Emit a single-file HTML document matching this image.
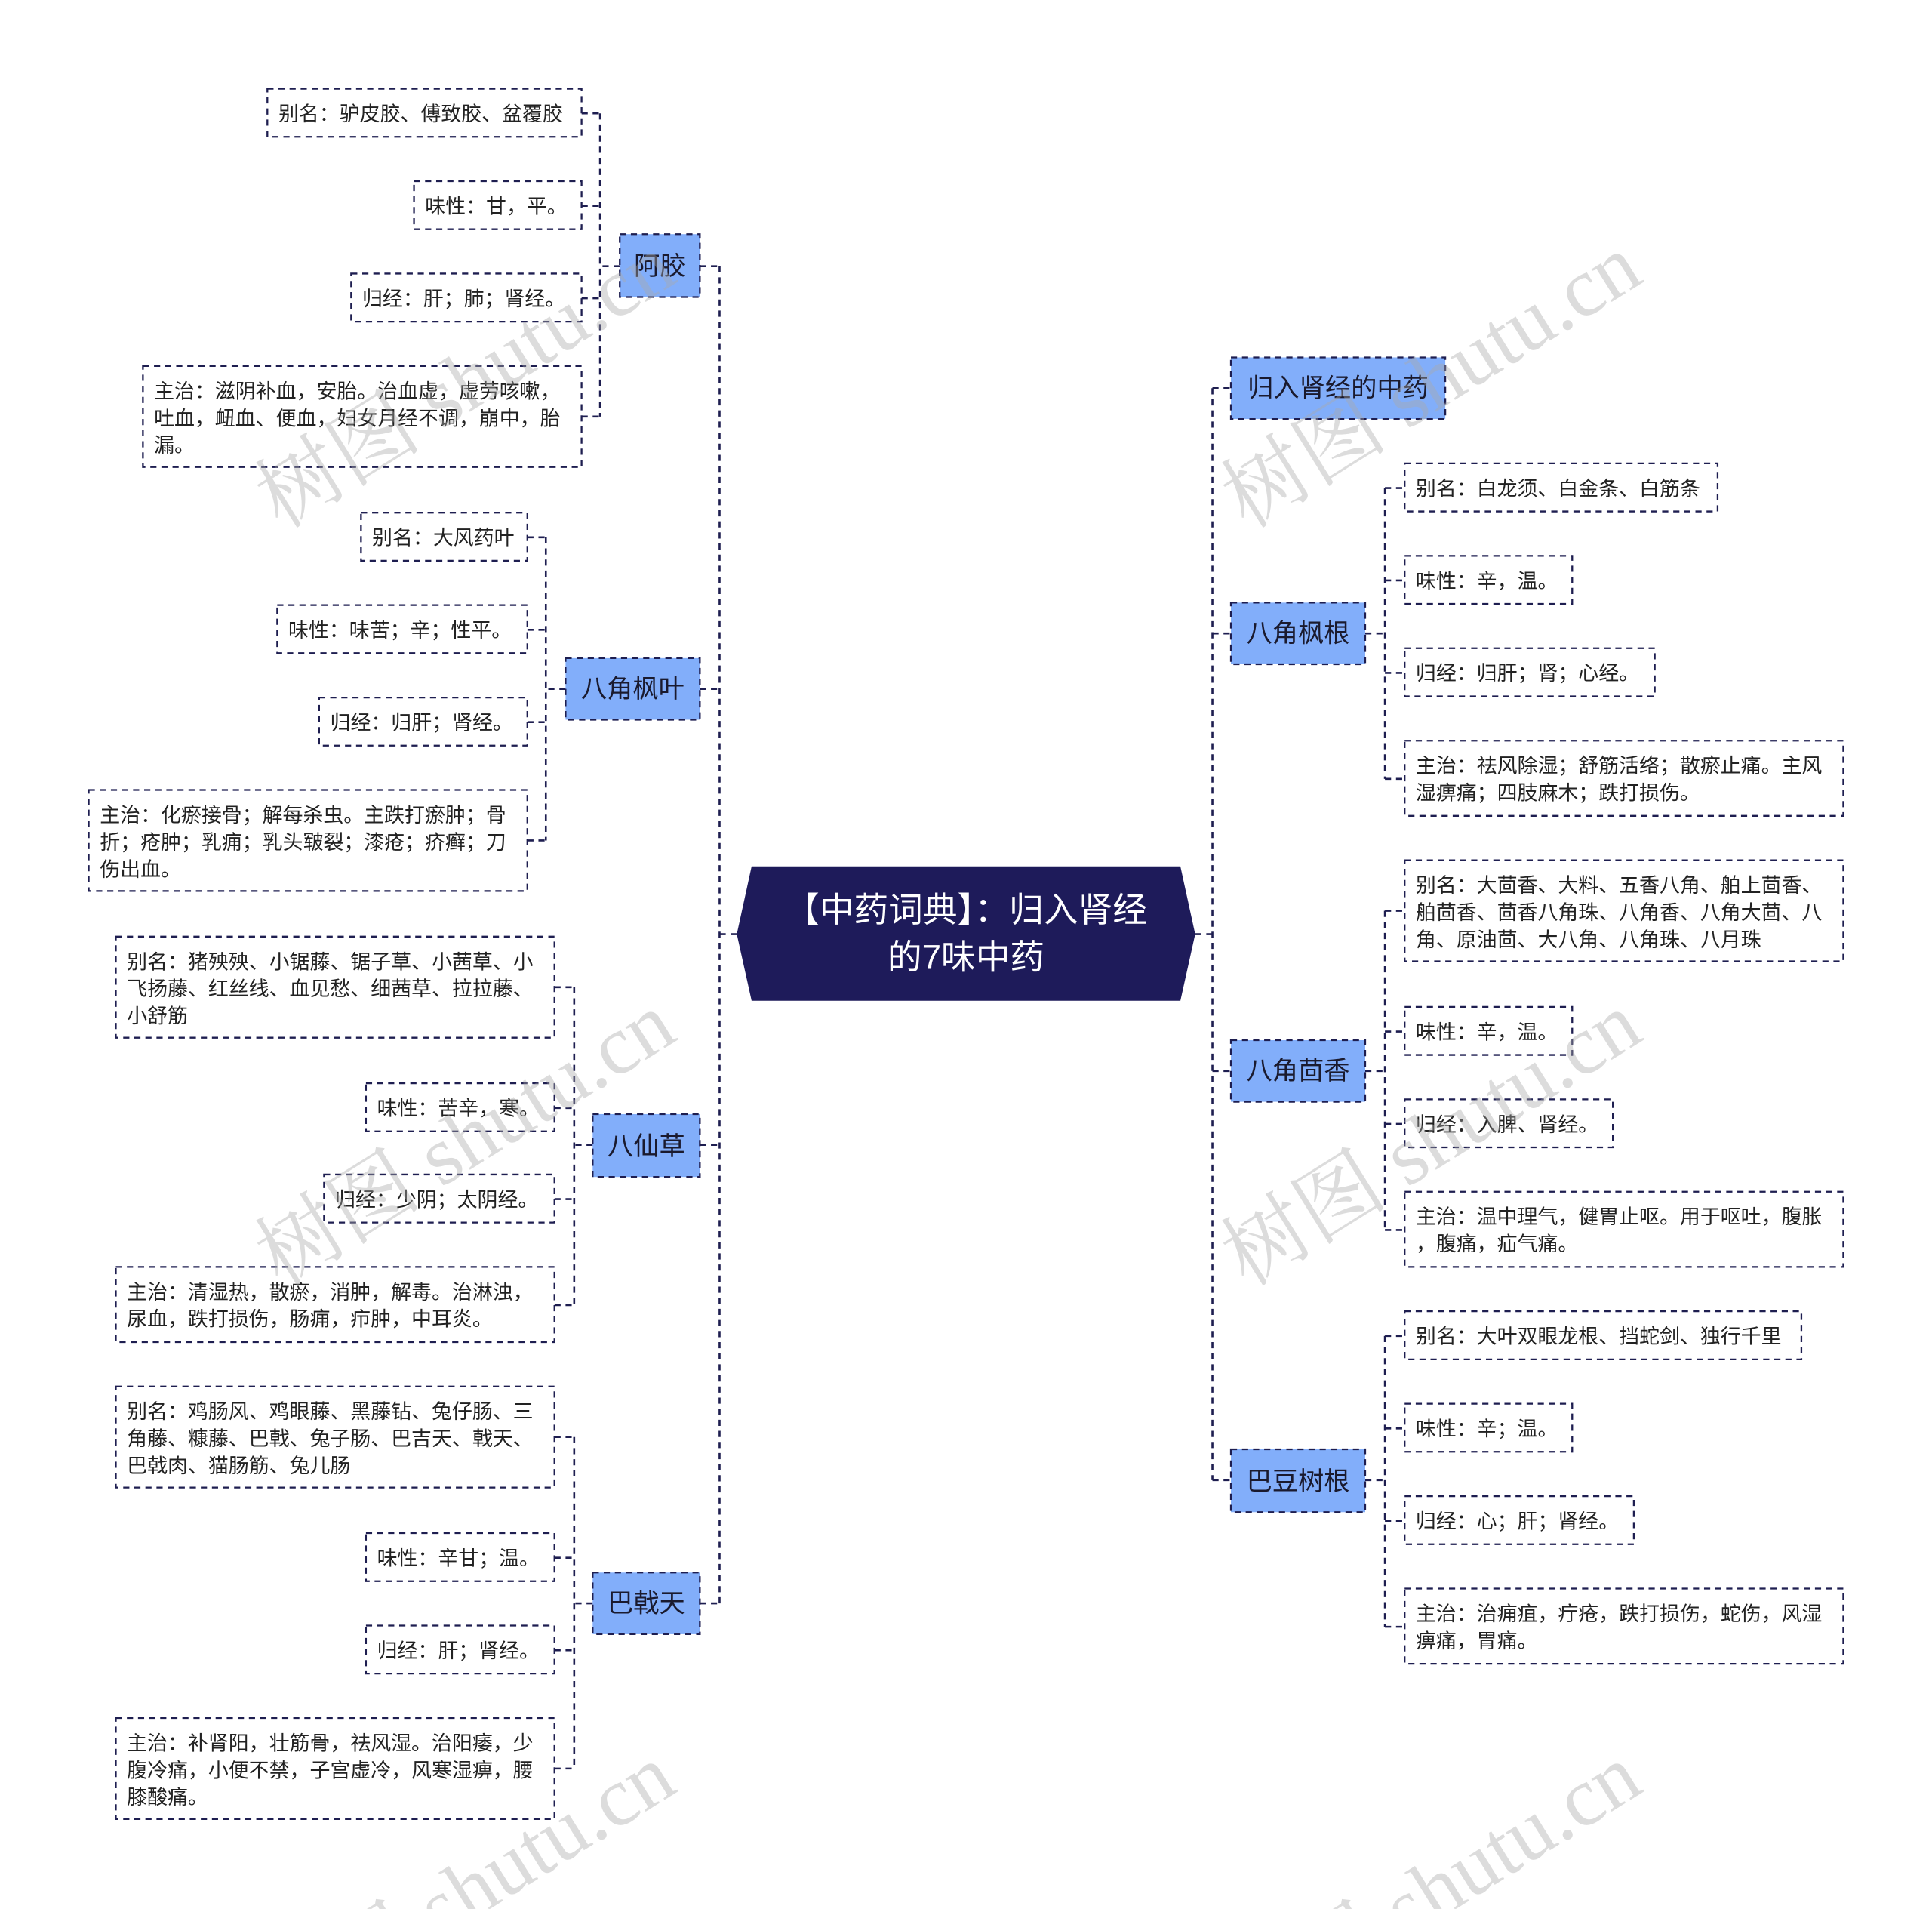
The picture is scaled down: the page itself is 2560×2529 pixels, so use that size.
<!DOCTYPE html>
<html><head><meta charset="utf-8"><style>
html,body{margin:0;padding:0;background:#fff;width:2560px;height:2529px;overflow:hidden;}
svg{display:block;}
text{font-family:"Liberation Sans","Noto Sans CJK SC",sans-serif;}
.t{font-size:16.5px;fill:#222;}
.b{font-size:21px;fill:#1a1a2e;}
.ln{stroke:#1e1e50;stroke-width:1.6;stroke-dasharray:5,4;fill:none;}
.box{stroke:#1e1e50;stroke-width:1.4;stroke-dasharray:5,4;fill:#fff;}
.nd{stroke:#1e1e50;stroke-width:1.4;stroke-dasharray:5,4;fill:#82aefa;}
.wm{font-family:"Liberation Serif","Noto Serif CJK SC",serif;font-size:68px;fill:#aaa;opacity:0.4;}
</style></head><body>
<svg width="2560" height="2529" viewBox="0 0 1568 1549" preserveAspectRatio="none" xmlns="http://www.w3.org/2000/svg">
<path class="ln" d="M598 758 H584 M584 216 V1301 M568 216 H584 M568 559 H584 M568 929 H584 M568 1301 H584"/>
<path class="ln" d="M970 758 H984 M984 315 V1201 M984 315 H999 M984 514 H999 M984 869 H999 M984 1201 H999"/>
<path class="ln" d="M503 216 H487 M487 92 V338 M472 92 H487 M472 167 H487 M472 242 H487 M472 338 H487"/>
<path class="ln" d="M459 559 H443 M443 436 V682 M428 436 H443 M428 511 H443 M428 586 H443 M428 682 H443"/>
<path class="ln" d="M481 929 H466 M466 801 V1059 M450 801 H466 M450 899 H466 M450 973 H466 M450 1059 H466"/>
<path class="ln" d="M481 1301 H466 M466 1166 V1435 M450 1166 H466 M450 1264 H466 M450 1339 H466 M450 1435 H466"/>
<path class="ln" d="M1108 514 H1124 M1124 396 V632 M1124 396 H1140 M1124 471 H1140 M1124 546 H1140 M1124 632 H1140"/>
<path class="ln" d="M1108 869 H1124 M1124 739 V998 M1124 739 H1140 M1124 837 H1140 M1124 912 H1140 M1124 998 H1140"/>
<path class="ln" d="M1108 1201 H1124 M1124 1084 V1320 M1124 1084 H1140 M1124 1159 H1140 M1124 1234 H1140 M1124 1320 H1140"/>

<polygon points="610,703 958,703 970,758 958,812 610,812 598,758" fill="#1e1b5a"/>
<text x="784" y="748" text-anchor="middle" style="font-size:28px;fill:#fff">【中药词典】：归入肾经</text>
<text x="784" y="786" text-anchor="middle" style="font-size:28px;fill:#fff">的7味中药</text>

<rect class="nd" x="503" y="190" width="65" height="51"/><text class="b" x="535.5" y="223" text-anchor="middle">阿胶</text>
<rect class="nd" x="459" y="534" width="109" height="50"/><text class="b" x="513.5" y="566" text-anchor="middle">八角枫叶</text>
<rect class="nd" x="481" y="904" width="87" height="51"/><text class="b" x="524.5" y="937" text-anchor="middle">八仙草</text>
<rect class="nd" x="481" y="1276" width="87" height="50"/><text class="b" x="524.5" y="1308" text-anchor="middle">巴戟天</text>
<rect class="nd" x="999" y="290" width="174" height="50"/><text class="b" x="1086" y="322" text-anchor="middle">归入肾经的中药</text>
<rect class="nd" x="999" y="489" width="109" height="50"/><text class="b" x="1053.5" y="521" text-anchor="middle">八角枫根</text>
<rect class="nd" x="999" y="844" width="109" height="50"/><text class="b" x="1053.5" y="876" text-anchor="middle">八角茴香</text>
<rect class="nd" x="999" y="1176" width="109" height="51"/><text class="b" x="1053.5" y="1209" text-anchor="middle">巴豆树根</text>

<rect class="box" x="217" y="72" width="255" height="39"/><text class="t" x="226" y="98">别名：驴皮胶、傅致胶、盆覆胶</text>
<rect class="box" x="336" y="147" width="136" height="39"/><text class="t" x="345" y="173">味性：甘，平。</text>
<rect class="box" x="285" y="222" width="187" height="39"/><text class="t" x="294" y="248">归经：肝；肺；肾经。</text>
<rect class="box" x="116" y="297" width="356" height="82"/><text class="t" x="125" y="323">主治：滋阴补血，安胎。治血虚，虚劳咳嗽，</text><text class="t" x="125" y="345">吐血，衄血、便血，妇女月经不调，崩中，胎</text><text class="t" x="125" y="367">漏。</text>

<rect class="box" x="293" y="416" width="135" height="39"/><text class="t" x="302" y="442">别名：大风药叶</text>
<rect class="box" x="225" y="491" width="203" height="39"/><text class="t" x="234" y="517">味性：味苦；辛；性平。</text>
<rect class="box" x="259" y="566" width="169" height="39"/><text class="t" x="268" y="592">归经：归肝；肾经。</text>
<rect class="box" x="72" y="641" width="356" height="82"/><text class="t" x="81" y="667">主治：化瘀接骨；解每杀虫。主跌打瘀肿；骨</text><text class="t" x="81" y="689">折；疮肿；乳痈；乳头皲裂；漆疮；疥癣；刀</text><text class="t" x="81" y="711">伤出血。</text>

<rect class="box" x="94" y="760" width="356" height="82"/><text class="t" x="103" y="786">别名：猪殃殃、小锯藤、锯子草、小茜草、小</text><text class="t" x="103" y="808">飞扬藤、红丝线、血见愁、细茜草、拉拉藤、</text><text class="t" x="103" y="830">小舒筋</text>
<rect class="box" x="297" y="879" width="153" height="39"/><text class="t" x="306" y="905">味性：苦辛，寒。</text>
<rect class="box" x="263" y="953" width="187" height="39"/><text class="t" x="272" y="979">归经：少阴；太阴经。</text>
<rect class="box" x="94" y="1028" width="356" height="61"/><text class="t" x="103" y="1054">主治：清湿热，散瘀，消肿，解毒。治淋浊，</text><text class="t" x="103" y="1076">尿血，跌打损伤，肠痈，疖肿，中耳炎。</text>

<rect class="box" x="94" y="1125" width="356" height="82"/><text class="t" x="103" y="1151">别名：鸡肠风、鸡眼藤、黑藤钻、兔仔肠、三</text><text class="t" x="103" y="1173">角藤、糠藤、巴戟、兔子肠、巴吉天、戟天、</text><text class="t" x="103" y="1195">巴戟肉、猫肠筋、兔儿肠</text>
<rect class="box" x="297" y="1244" width="153" height="39"/><text class="t" x="306" y="1270">味性：辛甘；温。</text>
<rect class="box" x="297" y="1319" width="153" height="39"/><text class="t" x="306" y="1345">归经：肝；肾经。</text>
<rect class="box" x="94" y="1394" width="356" height="82"/><text class="t" x="103" y="1420">主治：补肾阳，壮筋骨，祛风湿。治阳痿，少</text><text class="t" x="103" y="1442">腹冷痛，小便不禁，子宫虚冷，风寒湿痹，腰</text><text class="t" x="103" y="1464">膝酸痛。</text>

<rect class="box" x="1140" y="376" width="254" height="39"/><text class="t" x="1149" y="402">别名：白龙须、白金条、白筋条</text>
<rect class="box" x="1140" y="451" width="136" height="39"/><text class="t" x="1149" y="477">味性：辛，温。</text>
<rect class="box" x="1140" y="526" width="203" height="39"/><text class="t" x="1149" y="552">归经：归肝；肾；心经。</text>
<rect class="box" x="1140" y="601" width="356" height="61"/><text class="t" x="1149" y="627">主治：祛风除湿；舒筋活络；散瘀止痛。主风</text><text class="t" x="1149" y="649">湿痹痛；四肢麻木；跌打损伤。</text>

<rect class="box" x="1140" y="698" width="356" height="82"/><text class="t" x="1149" y="724">别名：大茴香、大料、五香八角、舶上茴香、</text><text class="t" x="1149" y="746">舶茴香、茴香八角珠、八角香、八角大茴、八</text><text class="t" x="1149" y="768">角、原油茴、大八角、八角珠、八月珠</text>
<rect class="box" x="1140" y="817" width="136" height="39"/><text class="t" x="1149" y="843">味性：辛，温。</text>
<rect class="box" x="1140" y="892" width="169" height="39"/><text class="t" x="1149" y="918">归经：入脾、肾经。</text>
<rect class="box" x="1140" y="967" width="356" height="61"/><text class="t" x="1149" y="993">主治：温中理气，健胃止呕。用于呕吐，腹胀</text><text class="t" x="1149" y="1015">，腹痛，疝气痛。</text>

<rect class="box" x="1140" y="1064" width="322" height="39"/><text class="t" x="1149" y="1090">别名：大叶双眼龙根、挡蛇剑、独行千里</text>
<rect class="box" x="1140" y="1139" width="136" height="39"/><text class="t" x="1149" y="1165">味性：辛；温。</text>
<rect class="box" x="1140" y="1214" width="186" height="39"/><text class="t" x="1149" y="1240">归经：心；肝；肾经。</text>
<rect class="box" x="1140" y="1289" width="356" height="61"/><text class="t" x="1149" y="1315">主治：治痈疽，疔疮，跌打损伤，蛇伤，风湿</text><text class="t" x="1149" y="1337">痹痛，胃痛。</text>

<text class="wm" transform="translate(228,430) rotate(-32)">树图 shutu.cn</text>
<text class="wm" transform="translate(1012,430) rotate(-32)">树图 shutu.cn</text>
<text class="wm" transform="translate(228,1045) rotate(-32)">树图 shutu.cn</text>
<text class="wm" transform="translate(1012,1045) rotate(-32)">树图 shutu.cn</text>
<text class="wm" transform="translate(228,1655) rotate(-32)">树图 shutu.cn</text>
<text class="wm" transform="translate(1012,1655) rotate(-32)">树图 shutu.cn</text>
</svg>
</body></html>
